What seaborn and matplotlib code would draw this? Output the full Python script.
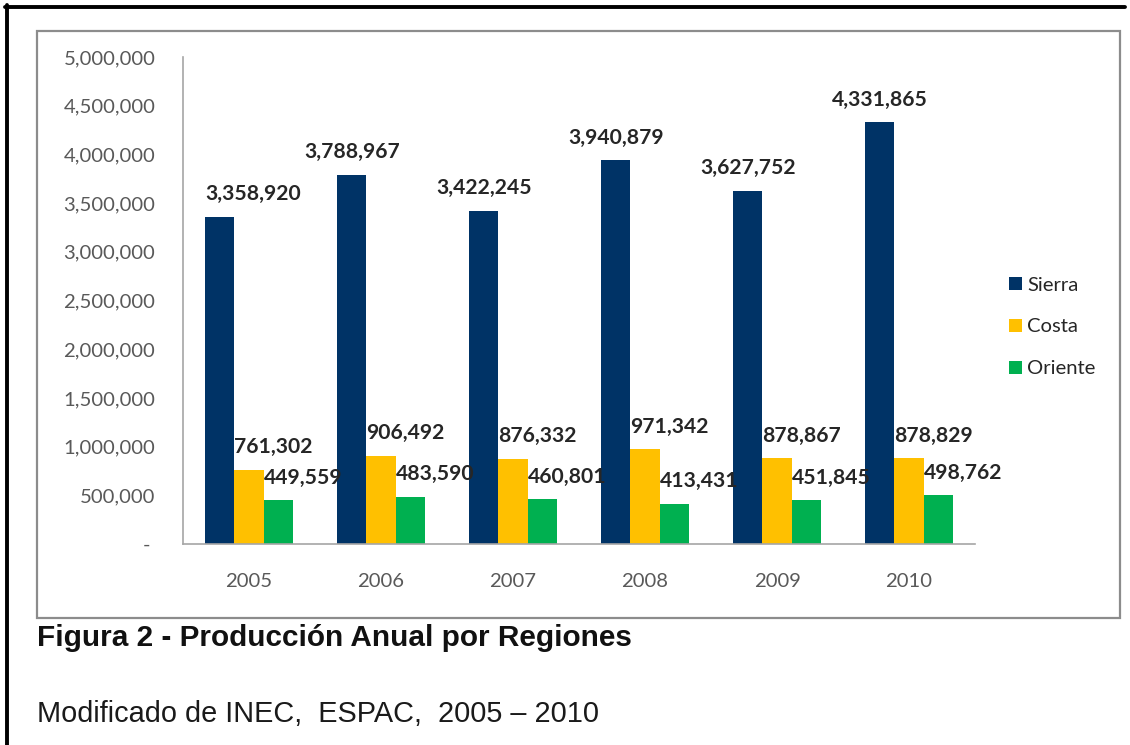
import numpy as np
import pandas as pd
import seaborn as sns
import matplotlib.pyplot as plt
from matplotlib.patches import Rectangle
from matplotlib.lines import Line2D
from matplotlib.ticker import FuncFormatter

# Annual production by region (units), 2005-2010
years = ["2005", "2006", "2007", "2008", "2009", "2010"]
regions = ["Sierra", "Costa", "Oriente"]
sierra = [3358920, 3788967, 3422245, 3940879, 3627752, 4331865]
costa = [761302, 906492, 876332, 971342, 878867, 878829]
oriente = [449559, 483590, 460801, 413431, 451845, 498762]
colors = ["#003366", "#FFC000", "#00B050"]

title = "Figura 2 - Producción Anual por Regiones"
source = "Modificado de INEC,  ESPAC,  2005 – 2010"

df = pd.DataFrame({
    "year": years * 3,
    "region": [r for r in regions for _ in years],
    "value": sierra + costa + oriente,
})

sns.set_style("white")
plt.rcParams["font.family"] = ["Lato", "DejaVu Sans"]

W, H = 1130, 745
fig = plt.figure(figsize=(W / 100, H / 100), dpi=100)
ax = fig.add_axes([183 / W, 1 - 544 / H, (975 - 183) / W, (544 - 57) / H])

sns.barplot(data=df, x="year", y="value", hue="region", order=years,
            hue_order=regions, palette=colors, width=0.66, saturation=1,
            errorbar=None, ax=ax, legend=True, linewidth=0)

ax.set_xlim(-0.5, len(years) - 0.5)
ax.set_ylim(0, 5_000_000)
ax.set_yticks(np.arange(0, 5_000_001, 500_000))
ax.yaxis.set_major_formatter(
    FuncFormatter(lambda v, p: "- " if v == 0 else f"{v:,.0f}"))
ax.set_xlabel("")
ax.set_ylabel("")

axis_grey = "#A6A6A6"
for side in ("top", "right"):
    ax.spines[side].set_visible(False)
for side in ("left", "bottom"):
    ax.spines[side].set_color(axis_grey)
    ax.spines[side].set_linewidth(1.2)

tick_size = 14.6
ax.tick_params(axis="y", direction="out", length=4, width=1, color=axis_grey,
               pad=16, labelsize=tick_size, labelcolor="#595959")
ax.tick_params(axis="x", which="major", length=0, pad=21, labelsize=tick_size,
               labelcolor="#595959")
ax.set_xticks(np.arange(-0.5, len(years)), minor=True)
ax.tick_params(axis="x", which="minor", direction="out", length=5, width=1,
               color=axis_grey)

# value labels above every bar
label_color = "#262626"
for level, container in zip(regions, ax.containers):
    for i, bar in enumerate(container):
        h = bar.get_height()
        if level == "Sierra" and i > 0:
            x, ha = bar.get_x() + bar.get_width() / 2, "center"
        else:
            x, ha = bar.get_x(), "left"
        ax.annotate(f"{h:,.0f}", xy=(x, h), xytext=(0, 9),
                    textcoords="offset points", ha=ha, va="bottom",
                    fontsize=15.2, fontweight="bold", color=label_color)

handles, labels = ax.get_legend_handles_labels()
ax.legend(handles, labels, loc="center left",
          bbox_to_anchor=(1009 / W, 1 - 327 / H), bbox_transform=fig.transFigure,
          frameon=False, fontsize=tick_size, handlelength=0.62, handleheight=0.62,
          handletextpad=0.28, labelspacing=1.22, labelcolor="#262626",
          borderpad=0, borderaxespad=0)

# chart border and outer page rule
fig.add_artist(Rectangle((37 / W, 1 - 618 / H), (1120 - 37) / W, (618 - 31) / H,
                         transform=fig.transFigure, fill=False,
                         edgecolor="#8C8C8C", linewidth=1.6))
fig.add_artist(Line2D([5 / W, 1125 / W], [1 - 6.5 / H, 1 - 6.5 / H],
                      transform=fig.transFigure, color="black", linewidth=2.8))
fig.add_artist(Line2D([6.5 / W, 6.5 / W], [1 - 5 / H, 0],
                      transform=fig.transFigure, color="black", linewidth=2.8))

fig.text(37 / W, 1 - 638 / H, title, ha="left", va="center", fontsize=21.4,
         fontweight="bold", family=["Liberation Sans", "DejaVu Sans"],
         color="#111111")
fig.text(37 / W, 1 - 714 / H, source, ha="left", va="center", fontsize=20.8,
         family=["Liberation Sans", "DejaVu Sans"], color="#1a1a1a")

fig.savefig("out.png", dpi=100, facecolor="white")
